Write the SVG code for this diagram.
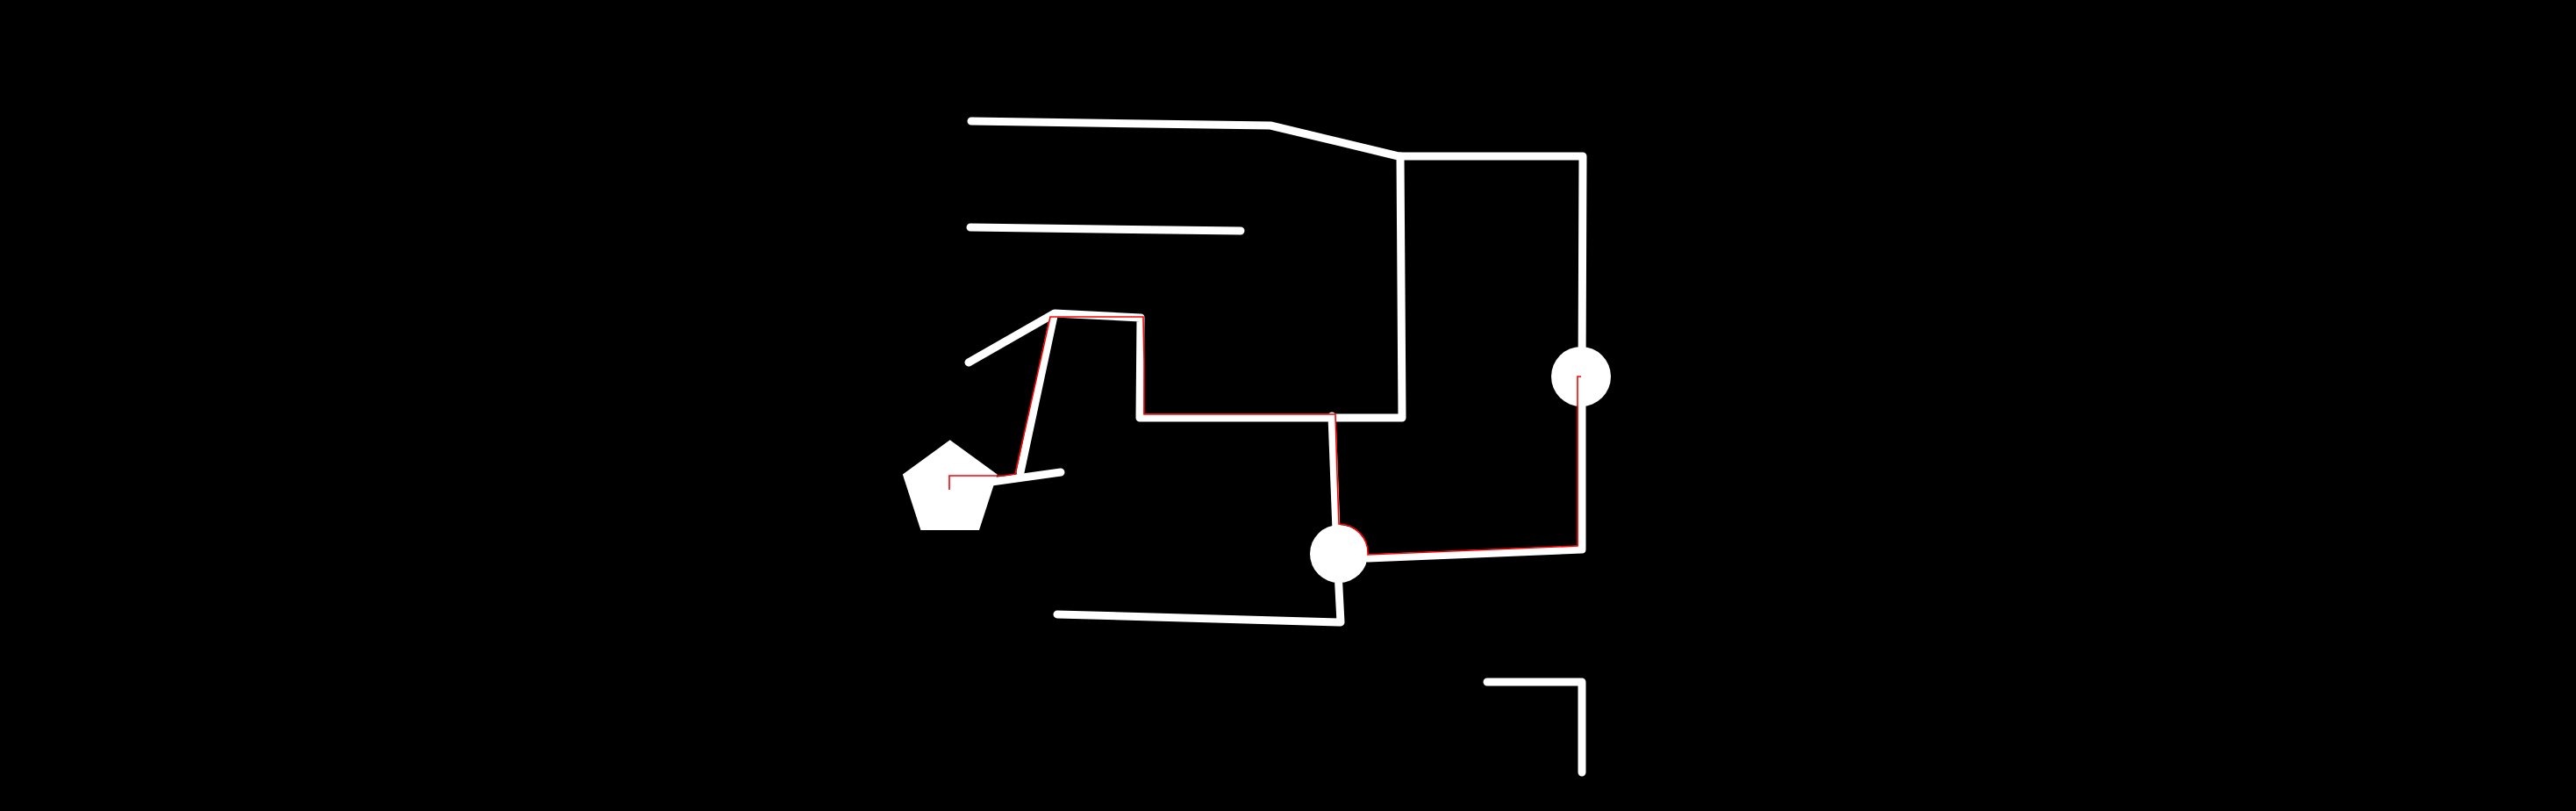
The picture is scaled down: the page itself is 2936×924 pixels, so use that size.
<svg xmlns="http://www.w3.org/2000/svg" width="2936" height="924" viewBox="0 0 2936 924">
<style>
.w{fill:none;stroke:#fff;stroke-width:9;stroke-linecap:round;stroke-linejoin:round}
.r{fill:none;stroke:#ff0000;stroke-width:1.6}
.n{fill:#fff;stroke:none}
</style>
<rect width="2936" height="924" fill="#000"/>
<g id="connectors">
<path class="w" d="M1107,138 L1448,143 L1594,178 L1804,178 L1803,429"/>
<path class="w" d="M1106,259 L1414,263"/>
<path class="w" d="M1104,413 L1202,357 L1300,362 L1299,476 L1598,476 L1596,178"/>
<path class="w" d="M1201,360 L1163,538"/>
<path class="w" d="M1130,549 L1209,538"/>
<path class="w" d="M1518,474 L1524,631 L1528,709 L1205,700"/>
<path class="w" d="M1559,636 L1803,626 L1803,429"/>
<path class="w" d="M1695,777 L1803,777 L1803,880"/>
</g>
<g id="node-pentagon"><polygon class="n" points="1082.7,501.3 1136.6,540.5 1116,604 1049.4,604 1028.8,540.5"/></g>
<g id="node-joint-1"><circle class="n" cx="1526" cy="631" r="33"/></g>
<g id="node-joint-2"><circle class="n" cx="1802" cy="429" r="34"/></g>
<g id="path-trace">
<path class="r" d="M1082,558 V542 H1144 L1157,540 L1197,361 H1303 L1304,412 V472 H1522 L1524,540 L1526,597 A33,33 0 0 1 1559,632 L1798,622 V429 H1802"/>
</g>
</svg>
